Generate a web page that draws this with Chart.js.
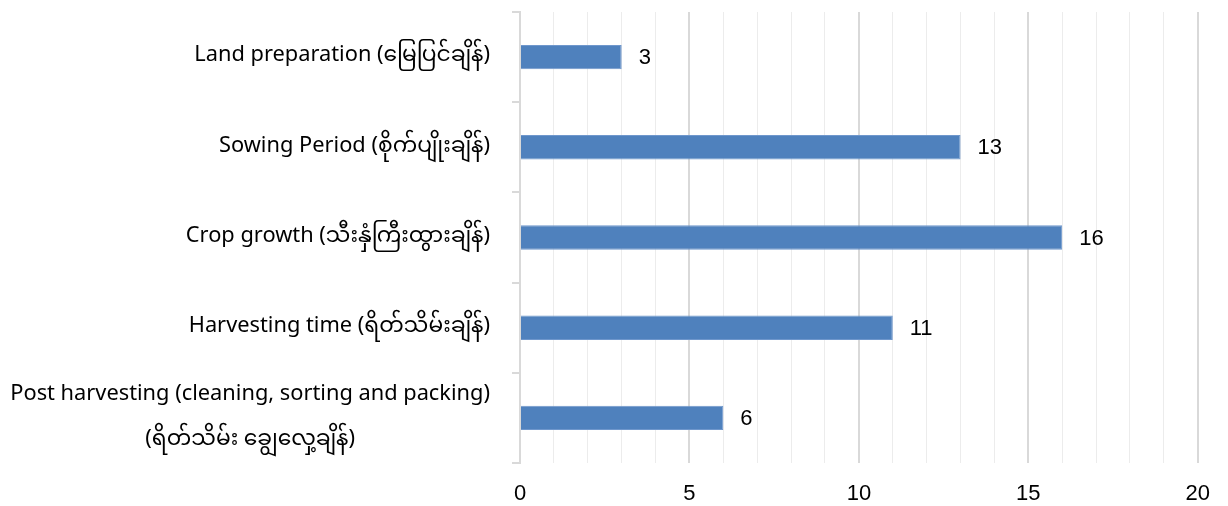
<!DOCTYPE html>
<html>
<head>
<meta charset="utf-8">
<script src="https://cdn.jsdelivr.net/npm/chart.js@4"></script>
<style>
html,body{margin:0;padding:0;background:#fff;}
#wrap{width:1228px;height:506px;position:relative;}
</style>
</head>
<body>
<div id="wrap"><canvas id="c"></canvas></div>
<script>
const categories = [
  "Land preparation (မြေပြင်ချိန်)",
  "Sowing Period (စိုက်ပျိုးချိန်)",
  "Crop growth (သီးနှံကြီးထွားချိန်)",
  "Harvesting time (ရိတ်သိမ်းချိန်)",
  ["Post harvesting (cleaning, sorting and packing)", "(ရိတ်သိမ်း ချွေလှေ့ချိန်)"]
];
const values = [3, 13, 16, 11, 6];
const xTickLabels = [0, 5, 10, 15, 20];

const labelFont = '21.8px "Noto Sans", "Noto Sans Myanmar", "Padauk", sans-serif';
const numFont = '22px "Liberation Sans", Arial, sans-serif';

const customLabels = {
  id: 'customLabels',
  afterDatasetsDraw(chart) {
    const ctx = chart.ctx;
    const meta = chart.getDatasetMeta(0);
    ctx.save();
    ctx.font = numFont;
    ctx.fillStyle = '#000';
    ctx.textAlign = 'left';
    ctx.textBaseline = 'middle';
    meta.data.forEach((bar, i) => {
      ctx.fillText(String(values[i]), bar.x + 17, bar.y + 1);
    });
    const ys = chart.scales.y;
    const right = ys.right - 8 - 22;
    ctx.font = labelFont;
    categories.forEach((lab, i) => {
      const y = ys.getPixelForValue(i);
      if (Array.isArray(lab)) {
        const w = Math.max(...lab.map(s => ctx.measureText(s).width));
        const cx = right - w / 2;
        const lh = 45;
        ctx.textAlign = 'center';
        lab.forEach((s, k) => {
          ctx.fillText(s, cx, y - 2 + (k - (lab.length - 1) / 2) * lh);
        });
      } else {
        ctx.textAlign = 'right';
        ctx.fillText(lab, right, y - 2);
      }
    });
    ctx.restore();
  }
};

new Chart(document.getElementById('c'), {
  type: 'bar',
  data: {
    labels: categories,
    datasets: [{
      data: values,
      backgroundColor: '#4f81bd',
      borderColor: '#6f97cc',
      borderWidth: 1,
      categoryPercentage: 1,
      barPercentage: 0.27
    }]
  },
  options: {
    indexAxis: 'y',
    responsive: true,
    maintainAspectRatio: false,
    animation: false,
    layout: { padding: { top: 12, right: 29, bottom: 0, left: 0 } },
    plugins: { legend: { display: false }, tooltip: { enabled: false } },
    scales: {
      x: {
        min: 0, max: 20,
        border: { display: false },
        afterFit: (s) => { s.height = 43; },
        grid: {
          drawTicks: false,
          color: (c) => (c.tick && c.tick.value % 5 === 0) ? '#d9d9d9' : '#ececec',
          lineWidth: (c) => (c.tick && c.tick.value % 5 === 0) ? 2 : 1
        },
        ticks: {
          stepSize: 1,
          autoSkip: false,
          maxRotation: 0,
          padding: 18,
          color: '#000',
          font: { family: '"Liberation Sans", Arial, sans-serif', size: 22 },
          callback: (v) => xTickLabels.includes(v) ? String(v) : ''
        }
      },
      y: {
        offset: true,
        afterFit: (s) => { s.width = 520; },
        border: { display: true, color: '#d9d9d9', width: 2 },
        grid: { offset: true, drawOnChartArea: false, tickLength: 8, color: '#d9d9d9', lineWidth: 2 },
        ticks: { display: false }
      }
    }
  },
  plugins: [customLabels]
});
</script>
</body>
</html>
